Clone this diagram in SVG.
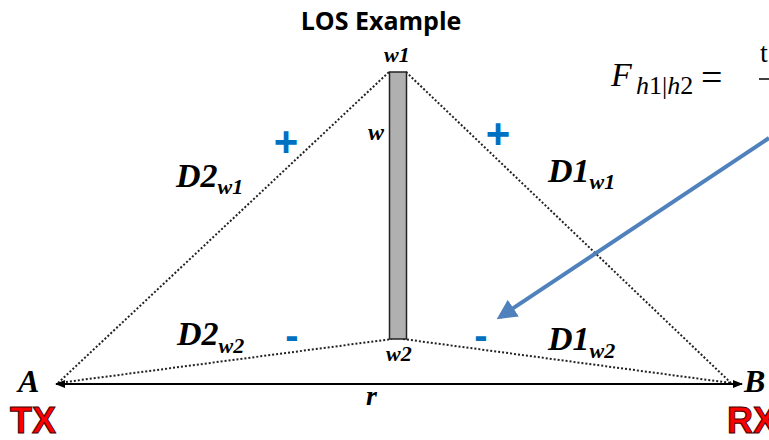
<svg xmlns="http://www.w3.org/2000/svg" width="769" height="440" viewBox="0 0 769 440">
<style>
.dot{fill:none;stroke:#222;stroke-width:2;stroke-dasharray:2 2;}
.lbl{font-family:"Liberation Serif",serif;font-style:italic;font-weight:bold;fill:#000;}
.sign{font-family:"Liberation Sans",Arial,sans-serif;font-weight:bold;fill:#0070C0;}
.math{font-family:"Liberation Serif",serif;fill:#000;}
.trx{font-family:"Liberation Sans",Arial,sans-serif;font-weight:bold;fill:#FF0000;stroke:#400;stroke-width:1;}
</style>
<defs>
<marker id="ah" viewBox="0 0 10 10" refX="9" refY="5" markerWidth="10" markerHeight="10" markerUnits="userSpaceOnUse" orient="auto">
<path d="M0,1 L10,5 L0,9 z" fill="#000"/>
</marker>
<marker id="bh" viewBox="0 0 10 10" refX="8" refY="5" markerWidth="5" markerHeight="5" orient="auto">
<path d="M0,0 L10,5 L0,10 z" fill="#4F81BD"/>
</marker>
</defs>
<rect width="769" height="440" fill="#fff"/>
<text x="381" y="30" text-anchor="middle" font-family="'Open Sans','Liberation Sans',sans-serif" font-weight="bold" font-size="25">LOS Example</text>

<g id="connectors">
<line class="dot" x1="58" y1="383" x2="389" y2="72"/>
<line class="dot" x1="406" y1="72" x2="731" y2="383"/>
<line class="dot" x1="58" y1="383" x2="392" y2="339"/>
<line class="dot" x1="403" y1="339" x2="731" y2="383"/>
<line x1="400" y1="384" x2="56" y2="384" stroke="#000" stroke-width="2" marker-end="url(#ah)"/>
<line x1="400" y1="384" x2="742" y2="384" stroke="#000" stroke-width="2" marker-end="url(#ah)"/>
<line x1="769" y1="138" x2="500" y2="317" stroke="#4F81BD" stroke-width="4" marker-end="url(#bh)"/>
</g>

<g id="wall">
<rect x="389.5" y="72" width="17" height="267" fill="#b0b0b0" stroke="#222" stroke-width="1.5"/>
<text class="lbl" x="384" y="62" font-size="22">w1</text>
<text class="lbl" x="368" y="140" font-size="24">w</text>
<text class="lbl" x="386" y="361" font-size="22">w2</text>
</g>

<g id="D2w1"><text class="lbl" x="176" y="187" font-size="34">D2<tspan font-size="22" dy="7">w1</tspan></text></g>
<g id="D1w1"><text class="lbl" x="548" y="182" font-size="34">D1<tspan font-size="22" dy="7">w1</tspan></text></g>
<g id="D2w2"><text class="lbl" x="177" y="345" font-size="34">D2<tspan font-size="22" dy="8">w2</tspan></text></g>
<g id="D1w2"><text class="lbl" x="548" y="350" font-size="34">D1<tspan font-size="22" dy="8">w2</tspan></text></g>

<g id="signs">
<text class="sign" x="286" y="156" font-size="42" text-anchor="middle">+</text>
<text class="sign" x="498" y="148" font-size="42" text-anchor="middle">+</text>
<text class="sign" x="292" y="349" font-size="40" text-anchor="middle">-</text>
<text class="sign" x="481" y="349" font-size="40" text-anchor="middle">-</text>
</g>

<g id="A"><text class="lbl" x="18" y="392" font-size="32" font-weight="normal">A</text>
<text class="trx" x="10" y="433" font-size="36">TX</text></g>
<g id="B"><text class="lbl" x="744" y="392" font-size="32" font-weight="normal">B</text>
<text class="trx" x="727" y="433" font-size="36">RX</text></g>

<text class="lbl" x="366" y="405" font-size="28">r</text>

<g id="formula">
<text class="math" x="611" y="86" font-size="34" font-style="italic">F</text>
<text class="math" x="636" y="94" font-size="26"><tspan font-style="italic">h</tspan>1|<tspan font-style="italic">h</tspan>2</text>
<text class="math" x="701" y="90" font-size="38">=</text>
<text class="math" x="760" y="62" font-size="28">t</text>
<line x1="759" y1="79" x2="769" y2="79" stroke="#000" stroke-width="1.5"/>
</g>
</svg>
